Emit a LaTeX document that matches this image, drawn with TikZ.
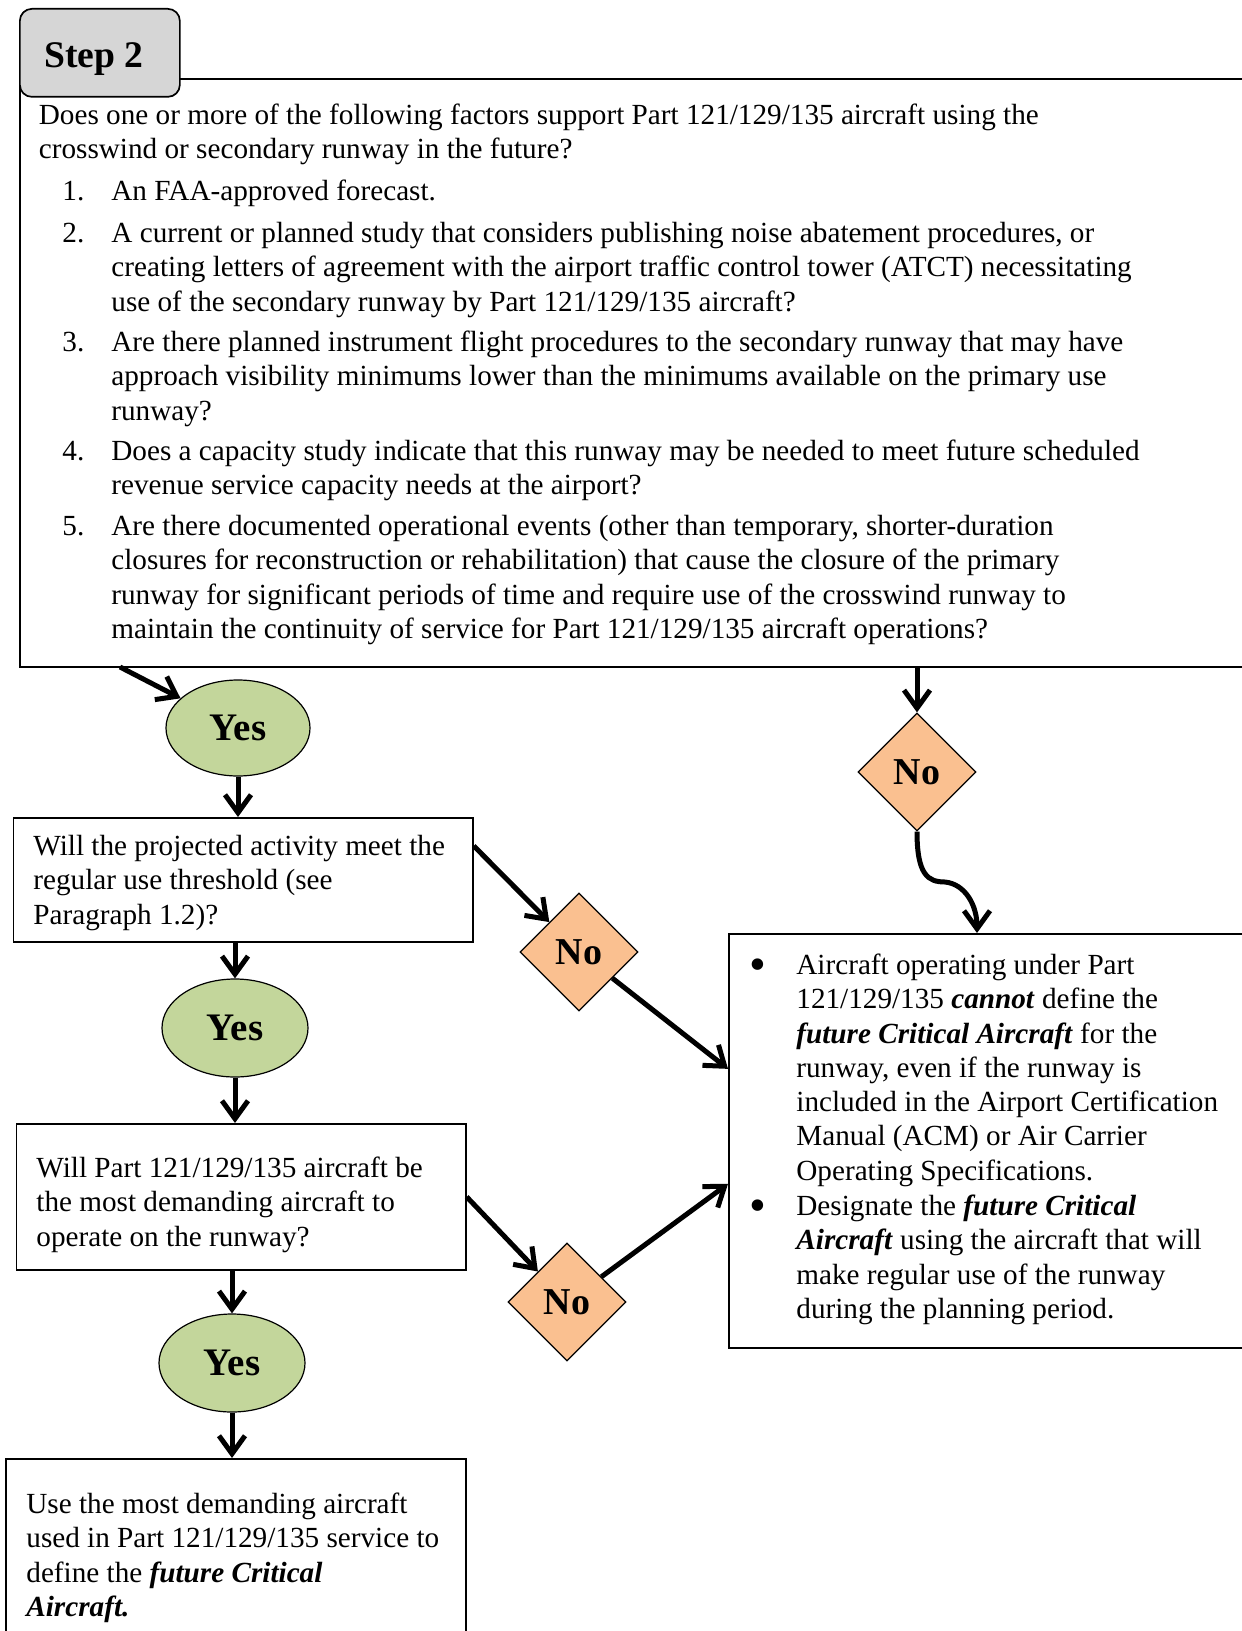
\documentclass[tikz,border=0pt]{standalone}
\usepackage{fontspec}
\setmainfont{Liberation Serif}
\usetikzlibrary{shapes.geometric,arrows.meta,calc}
\definecolor{yesfill}{HTML}{C3D69B}
\definecolor{nofill}{HTML}{FAC090}
\definecolor{tabfill}{HTML}{D6D6D6}
\newcommand{\bi}[1]{\textbf{\textit{#1}}}
\newcommand{\bigbullet}{{\fontsize{24}{17.15}\selectfont\raisebox{-3.2pt}{\textbullet}}}
\begin{document}
\begin{tikzpicture}[x=0.5pt,y=-0.5pt,
  body/.style={font=\fontsize{14.6}{17.15}\selectfont, inner sep=0pt, anchor=north west, align=left},
  frame/.style={draw, line width=0.85pt, rectangle, inner sep=0pt, anchor=north west},
  yesnode/.style={ellipse, draw, line width=0.6pt, fill=yesfill, inner sep=0pt, font=\fontsize{19.5}{20}\selectfont\bfseries},
  nonode/.style={diamond, draw, line width=0.6pt, fill=nofill, inner sep=0pt, minimum width=59pt, minimum height=59pt, font=\fontsize{19}{20}\selectfont\bfseries},
  arr/.style={line width=2.5pt, -{Straight Barb[length=9pt,width=13pt]}},
]
\useasboundingbox (0,0) rectangle (1241,1631);

% main question box and tab
\node[frame, minimum width=630pt, minimum height=294pt] (q) at (19,78) {};
\node[draw, fill=tabfill, rounded corners=6pt, line width=0.85pt, minimum width=80pt, minimum height=44pt, anchor=north west, font=\fontsize{18.8}{20}\selectfont\bfseries] (step) at (19,8) {\raisebox{-7.5pt}[0pt][0pt]{Step 2}\hspace*{6pt}};

\node[body] (intro) at (38.5,100) {\strut Does one or more of the following factors support Part 121/129/135 aircraft using the\\ crosswind or secondary runway in the future?};
\node[body] (k1) at (62,176) {\strut 1.};
\node[body] (t1) at (111,176) {\strut An FAA-approved forecast.};
\node[body] (k2) at (62,218) {\strut 2.};
\node[body] (t2) at (111,218) {\strut A current or planned study that considers publishing noise abatement procedures, or\\ creating letters of agreement with the airport traffic control tower (ATCT) necessitating\\ use of the secondary runway by Part 121/129/135 aircraft?};
\node[body] (k3) at (62,327) {\strut 3.};
\node[body] (t3) at (111,327) {\strut Are there planned instrument flight procedures to the secondary runway that may have\\ approach visibility minimums lower than the minimums available on the primary use\\ runway?};
\node[body] (k4) at (62,436) {\strut 4.};
\node[body] (t4) at (111,436) {\strut Does a capacity study indicate that this runway may be needed to meet future scheduled\\ revenue service capacity needs at the airport?};
\node[body] (k5) at (62,511) {\strut 5.};
\node[body] (t5) at (111,511) {\strut Are there documented operational events (other than temporary, shorter-duration\\ closures for reconstruction or rehabilitation) that cause the closure of the primary\\ runway for significant periods of time and require use of the crosswind runway to\\ maintain the continuity of service for Part 121/129/135 aircraft operations?};

% left column
\node[yesnode, minimum width=72pt, minimum height=48pt] (y1) at (238,728) {Yes};
\node[frame, minimum width=229.75pt, minimum height=62pt] (b2) at (12.5,817) {};
\node[body] (b2t) at (33,831) {\strut Will the projected activity meet the\\ regular use threshold (see\\ Paragraph 1.2)?};
\node[yesnode, minimum width=73pt, minimum height=49pt] (y2) at (235,1028) {Yes};
\node[frame, minimum width=224.7pt, minimum height=73pt] (b3) at (15.6,1123) {};
\node[body] (b3t) at (36,1153) {\strut Will Part 121/129/135 aircraft be\\ the most demanding aircraft to\\ operate on the runway?};
\node[yesnode, minimum width=73pt, minimum height=49pt] (y3) at (232,1363) {Yes};
\node[frame, minimum width=230pt, minimum height=101pt] (b4) at (5,1458) {};
\node[body] (b4t) at (26,1489) {\strut Use the most demanding aircraft\\ used in Part 121/129/135 service to\\ define the \bi{future Critical}\\ \bi{Aircraft.}};

% No diamonds
\node[nonode] (n1) at (917,772) {No};
\node[nonode] (n2) at (579,952) {No};
\node[nonode] (n3) at (567,1302) {No};

% right box
\node[frame, minimum width=266pt, minimum height=207pt] (b5) at (728,933) {};
\node[body] (d1) at (749,950) {\strut\bigbullet};
\node[body] (e1) at (796,950) {\strut Aircraft operating under Part\\ 121/129/135 \bi{cannot} define the\\ \bi{future Critical Aircraft} for the\\ runway, even if the runway is\\ included in the Airport Certification\\ Manual (ACM) or Air Carrier\\ Operating Specifications.};
\node[body] (d2) at (749,1191) {\strut\bigbullet};
\node[body] (e2) at (796,1191) {\strut Designate the \bi{future Critical}\\ \bi{Aircraft} using the aircraft that will\\ make regular use of the runway\\ during the planning period.};

% connectors
\coordinate (qa) at (120,667);
\coordinate (c5) at (977,933);
\draw[arr] (qa) -- (y1);
\draw[arr] (n1.north |- q.south) -- (n1.north);
\draw[arr] (y1.south) -- (y1.south |- b2.north);
\draw[arr] (b2.south -| y2.north) -- (y2.north);
\draw[arr] (y2.south) -- (y2.south |- b3.north);
\draw[arr] (b3.south -| y3.north) -- (y3.north);
\draw[arr] (y3.south) -- (y3.south |- b4.north);
\draw[arr] ([yshift=17pt]b2.east) -- (n2);
\draw[arr] (n2) -- ([yshift=36pt]b5.west);
\draw[arr] (b3.east) -- (n3);
\draw[arr] (n3) -- ([yshift=-21.5pt]b5.west);
\draw[arr] (n1.south) .. controls (917,875) and (928,882) .. (945,882) .. controls (965,884) and (977,905) .. (c5);
\end{tikzpicture}
\end{document}
